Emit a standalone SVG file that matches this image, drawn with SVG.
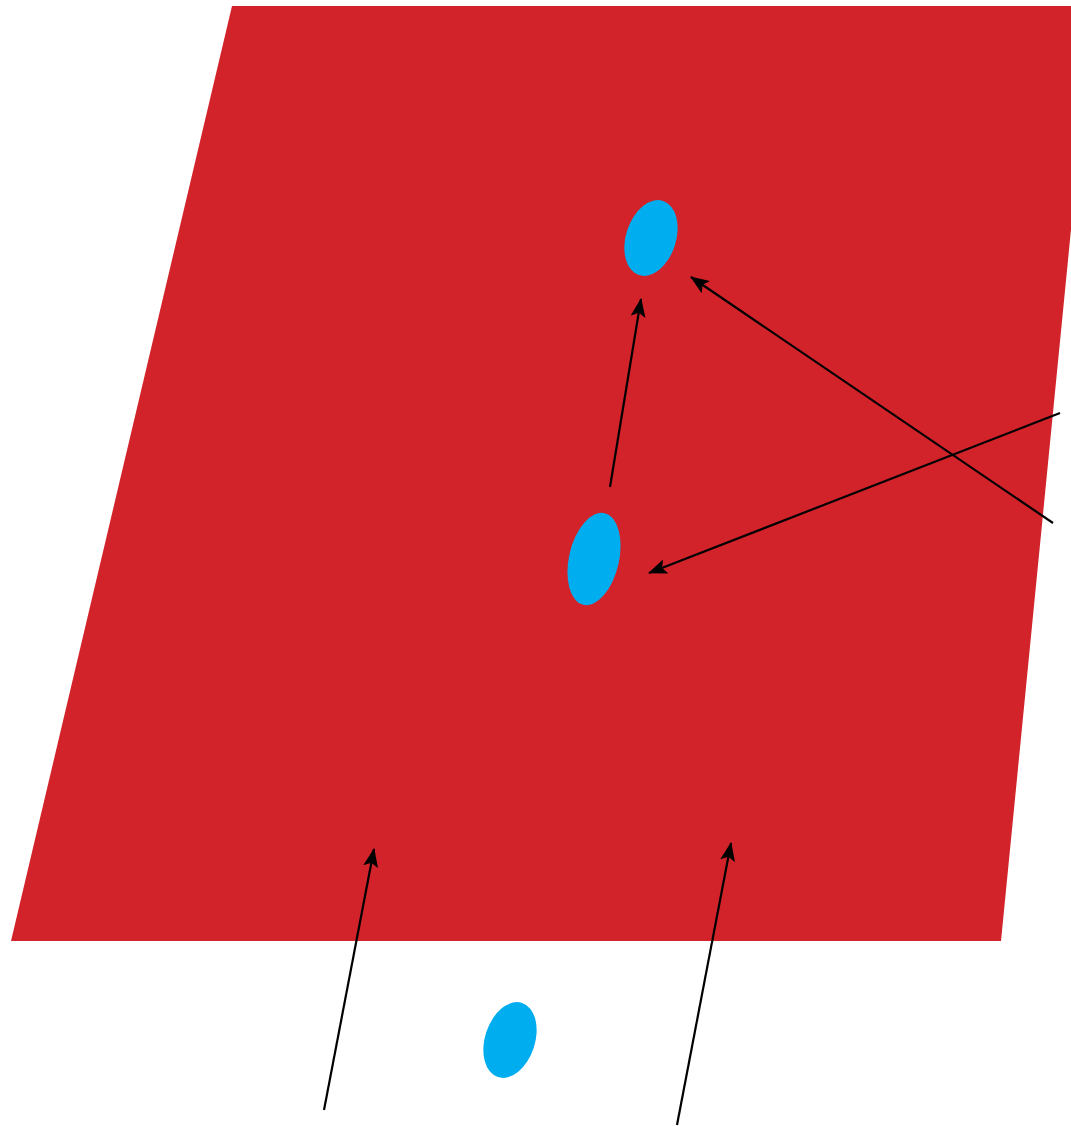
<svg xmlns="http://www.w3.org/2000/svg" width="1071" height="1126" viewBox="0 0 1071 1126">
<style>
.conn{stroke:#000;stroke-width:2.2;fill:none;marker-end:url(#ah)}
.dot{fill:#00aeef}
</style>
<defs>
<marker id="ah" markerUnits="userSpaceOnUse" markerWidth="20" markerHeight="15" refX="18" refY="7.5" orient="auto" viewBox="0 0 20 15">
<path d="M0,0 L19,7.5 L0,15 L4,7.5 Z" fill="#000"/>
</marker>
</defs>
<rect width="1071" height="1126" fill="#fff"/>
<g id="plane"><polygon points="232,6 1093,6 1001,941 11,941" fill="#d2232a"/></g>
<g id="node-top"><ellipse class="dot" cx="651" cy="238" rx="25" ry="39" transform="rotate(18 651 238)"/></g>
<g id="node-middle"><ellipse class="dot" cx="594" cy="559" rx="25" ry="47" transform="rotate(13 594 559)"/></g>
<g id="node-bottom"><ellipse class="dot" cx="510" cy="1040" rx="25" ry="39" transform="rotate(18 510 1040)"/></g>
<g id="connectors">
<line class="conn" x1="610" y1="487" x2="641" y2="299"/>
<line class="conn" x1="1053" y1="523" x2="691" y2="277"/>
<line class="conn" x1="1060" y1="413" x2="649" y2="573"/>
<line class="conn" x1="324" y1="1110" x2="374" y2="849"/>
<line class="conn" x1="677" y1="1125" x2="731" y2="843"/>
</g>
</svg>
